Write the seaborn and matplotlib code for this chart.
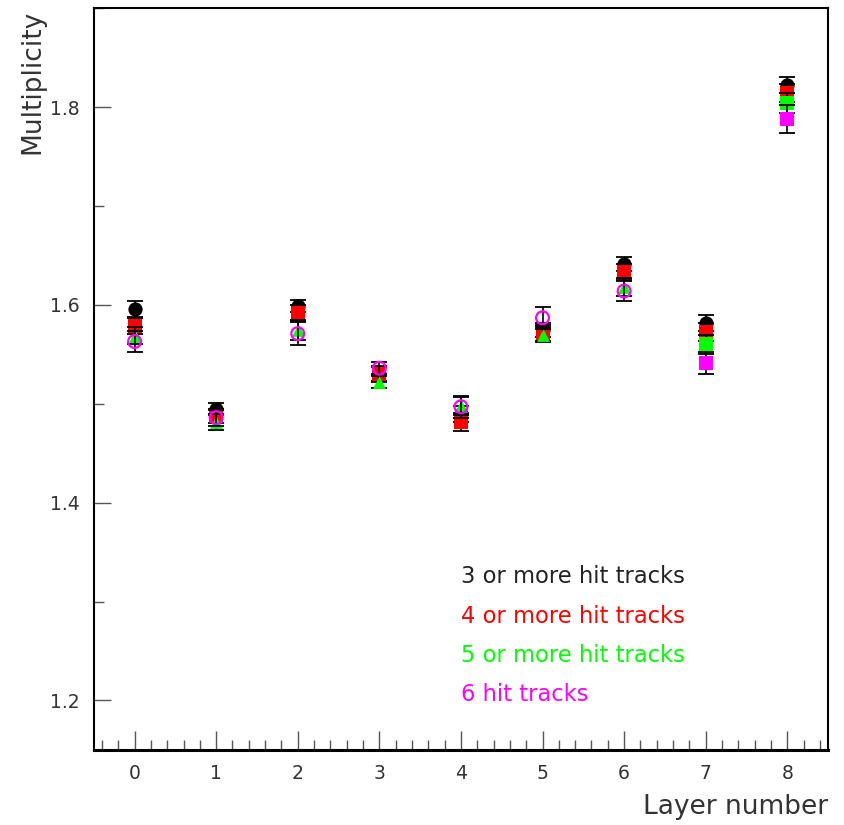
import matplotlib
matplotlib.use("Agg")
import matplotlib.pyplot as plt
from matplotlib.ticker import MultipleLocator
import numpy as np
import pandas as pd
import seaborn as sns

sns.set_style("ticks")
plt.rcParams["font.family"] = ["DejaVu Sans"]

layers = [0, 1, 2, 3, 4, 5, 6, 7, 8]

mult_3plus = [1.596, 1.495, 1.599, 1.530, 1.490, 1.575, 1.641, 1.582, 1.822]
err_3plus = [0.008, 0.006, 0.006, 0.007, 0.008, 0.007, 0.007, 0.008, 0.008]

mult_4plus = [1.579, 1.488, 1.592, 1.530, 1.482, 1.572, 1.633, 1.573, 1.814]
err_4plus = [0.008, 0.007, 0.008, 0.008, 0.009, 0.008, 0.008, 0.009, 0.009]

mult_5plus = [1.569, 1.482, 1.575, 1.522, 1.498, 1.570, 1.618, 1.560, 1.804]
err_5plus = [0.009, 0.008, 0.010, 0.006, 0.009, 0.008, 0.009, 0.010, 0.010]

mult_6 = [1.563, 1.486, 1.571, 1.536, 1.497, 1.587, 1.614, 1.541, 1.788]
err_6 = [0.011, 0.008, 0.012, 0.006, 0.011, 0.011, 0.010, 0.011, 0.014]

series_names = ["3 or more hit tracks", "4 or more hit tracks",
                "5 or more hit tracks", "6 hit tracks"]
series_colors = ["#000000", "#ff0000", "#00ff00", "#ff00ff"]

# marker style for each layer point of each series
markers_3plus = ["o"] * 9
markers_4plus = ["s"] * 9
markers_5plus = ["^"] * 7 + ["s"] * 2
markers_6 = ["open"] * 7 + ["s"] * 2

series = [
    (mult_3plus, err_3plus, markers_3plus),
    (mult_4plus, err_4plus, markers_4plus),
    (mult_5plus, err_5plus, markers_5plus),
    (mult_6, err_6, markers_6),
]

fig = plt.figure(figsize=(8.45, 8.25), dpi=100)
ax = fig.add_axes([0.111, 0.091, 0.869, 0.899])

for i, ((vals, errs, mks), name, col) in enumerate(zip(series, series_names, series_colors)):
    df = pd.DataFrame({"layer": layers, "mult": vals, "err": errs, "marker": mks})
    ax.errorbar(df["layer"], df["mult"], yerr=df["err"], fmt="none",
                ecolor="black", elinewidth=1.2, capsize=6, capthick=1.3,
                zorder=2 + 2 * i)
    filled = df[df["marker"] != "open"]
    for mk, grp in filled.groupby("marker"):
        sns.scatterplot(data=grp, x="layer", y="mult", marker=mk,
                        s=105 if mk != "^" else 85, color=col,
                        edgecolor=col, linewidth=0, ax=ax, zorder=3 + 2 * i)
    hollow = df[df["marker"] == "open"]
    if len(hollow):
        sns.scatterplot(data=hollow, x="layer", y="mult", marker="o", s=85,
                        facecolor="none", edgecolor=col, linewidth=1.6,
                        ax=ax, zorder=3 + 2 * i)

ax.set_xlim(-0.5, 8.5)
ax.set_ylim(1.15, 1.9)
ax.xaxis.set_major_locator(MultipleLocator(1))
ax.xaxis.set_minor_locator(MultipleLocator(0.2))
ax.yaxis.set_major_locator(MultipleLocator(0.2))
ax.yaxis.set_minor_locator(MultipleLocator(0.1))
ax.set_yticks([1.2, 1.4, 1.6, 1.8])
ax.tick_params(axis="both", which="major", direction="in", length=14,
               width=1, color="#555555", labelsize=13.5, labelcolor="#333333", pad=10)
ax.tick_params(axis="both", which="minor", direction="in", length=7,
               width=1, color="#555555")
ax.tick_params(axis="y", which="major", length=12)
for sp in ax.spines.values():
    sp.set_linewidth(1.5)
    sp.set_color("black")
ax.spines["bottom"].set_linewidth(2.2)

ax.set_xlabel("")
ax.set_ylabel("")
fig.text(0.980, 0.006, "Layer number", ha="right", va="bottom",
         fontsize=19, color="#333333")
fig.text(0.038, 0.988, "Multiplicity", ha="center", va="top",
         rotation=90, fontsize=19, color="#333333")

legend_y = [1.325, 1.285, 1.245, 1.206]
for name, col, yy in zip(series_names, series_colors, legend_y):
    ax.text(4.0, yy, name, color=col if col != "#000000" else "#222222",
            fontsize=16.3, ha="left", va="center")

fig.savefig("out.png", dpi=100)
